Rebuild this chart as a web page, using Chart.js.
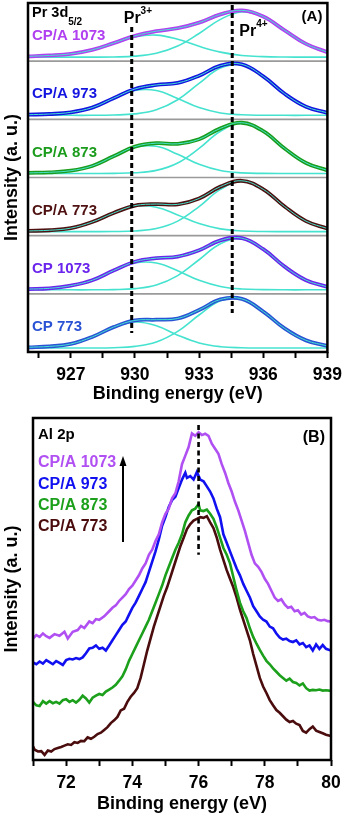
<!DOCTYPE html>
<html>
<head>
<meta charset="utf-8">
<script src="https://cdn.jsdelivr.net/npm/chart.js@4.4.1/dist/chart.umd.min.js"></script>
<style>
  html, body { margin: 0; padding: 0; background: #fff; }
  body { width: 349px; height: 817px; position: relative; overflow: hidden; }
  canvas { position: absolute; left: 0; }
  #chartA { top: 0; }
  #chartB { top: 405px; }
</style>
</head>
<body>
<canvas id="chartA" width="349" height="405"></canvas>
<canvas id="chartB" width="349" height="412"></canvas>
<script>
// ---- panel A : Pr 3d5/2 ----
const energyA = [925, 926, 927, 928, 929, 930, 931, 932, 933, 934, 935, 936, 937, 938, 939];
const ticksA = [925.5, 927, 928.5, 930, 931.5, 933, 934.5, 936, 937.5, 939];
const samplesA = ["CP/A 1073", "CP/A 973", "CP/A 873", "CP/A 773", "CP 1073", "CP 773"];
const pr3Energy = 929.85;
const pr4Energy = 934.55;

// intensity in each strip (a. u.), envelope + the two fitted components
const env_cpa1073 = [4.8, 5.7, 7.3, 11.2, 18, 25.2, 29.9, 32.9, 38.4, 46.7, 50.7, 44.5, 30.7, 17.2, 8.9];
const pr3_cpa1073 = [4.8, 5.7, 7.3, 11.2, 17.8, 24.2, 26, 21.8, 14.8, 9, 5.7, 4.5, 4.1, 4, 4];
const pr4_cpa1073 = [4, 4, 4, 4, 4.2, 5, 7.9, 15.1, 27.6, 41.7, 49, 44, 30.6, 17.2, 8.9];

const env_cpa973 = [4.6, 5.3, 7, 11.7, 21.1, 30.2, 34.3, 36.3, 43.5, 53.5, 54.8, 42.8, 25.5, 12.6, 6.5];
const pr3_cpa973 = [4.6, 5.3, 7, 11.7, 20.8, 28.8, 28.8, 20.8, 11.7, 6.4, 4.5, 4.1, 4, 4, 4];
const pr4_cpa973 = [4, 4, 4, 4, 4.3, 5.4, 9.5, 19.5, 35.8, 51.1, 54.3, 42.7, 25.5, 12.6, 6.5];

const env_cpa873 = [4.6, 5.2, 6.8, 11.5, 21.1, 30.8, 34.2, 33.6, 38.1, 49, 54.6, 46.2, 29, 14.5, 7.1];
const pr3_cpa873 = [4.6, 5.2, 6.8, 11.5, 21, 30.1, 31.1, 23.1, 13.1, 6.9, 4.6, 4.1, 4, 4, 4];
const pr4_cpa873 = [4, 4, 4, 4, 4.1, 4.7, 7.1, 14.5, 29, 46.1, 54, 46.1, 29, 14.5, 7.1];

const env_cpa773 = [4.7, 5.4, 7.5, 13.6, 22.6, 30, 31.5, 31.2, 37.1, 48.9, 54.7, 46.2, 29, 14.5, 7.1];
const pr3_cpa773 = [4.7, 5.4, 7.5, 13.6, 22.5, 29.3, 28.4, 20.7, 12.1, 6.8, 4.7, 4.1, 4, 4, 4];
const pr4_cpa773 = [4, 4, 4, 4, 4.1, 4.7, 7.1, 14.5, 29, 46.1, 54, 46.1, 29, 14.5, 7.1];

const env_cp1073 = [4.7, 5.5, 8.2, 13.5, 23.2, 32, 35.6, 37.2, 43.5, 53.3, 55.5, 44.5, 27.1, 13.6, 6.9];
const pr3_cp1073 = [4.7, 5.5, 8.2, 13.5, 23, 30.8, 30.8, 23, 13.5, 7.4, 4.8, 4.2, 4, 4, 4];
const pr4_cp1073 = [4, 4, 4, 4, 4.2, 5.2, 8.8, 18.2, 34, 49.9, 54.7, 44.3, 27.1, 13.6, 6.9];

const env_cp773 = [4.7, 5.6, 8, 15, 24.8, 31.5, 32.2, 33.4, 41.9, 52.4, 52.9, 40.3, 23.5, 11.6, 6.1];
const pr3_cp773 = [4.7, 5.6, 8, 15, 24.5, 29.9, 26.2, 16.8, 9, 5.3, 4.2, 4, 4, 4, 4];
const pr4_cp773 = [4, 4, 4, 4, 4.3, 5.6, 10, 20.6, 36.9, 51.1, 52.7, 40.3, 23.5, 11.6, 6.1];

// ---- panel B : Al 2p ----
const samplesB = ["CP/A 1073", "CP/A 973", "CP/A 873", "CP/A 773"];
const alPeak = 76.0;
const be_cpa1073 = [71.0, 71.1, 71.2, 71.3, 71.4, 71.5, 71.65, 71.8, 71.95, 72.05, 72.2, 72.35, 72.45, 72.55, 72.7, 72.8, 72.9, 73.0, 73.15, 73.3, 73.4, 73.5, 73.6, 73.7, 73.8, 73.9, 74.0, 74.1, 74.2, 74.3, 74.4, 74.5, 74.6, 74.7, 74.8, 74.9, 75.0, 75.1, 75.2, 75.3, 75.4, 75.5, 75.6, 75.7, 75.8, 75.9, 76.0, 76.1, 76.2, 76.3, 76.4, 76.5, 76.6, 76.7, 76.8, 76.9, 77.0, 77.1, 77.2, 77.3, 77.4, 77.5, 77.6, 77.7, 77.8, 77.9, 78.0, 78.1, 78.2, 78.3, 78.4, 78.5, 78.6, 78.7, 78.8, 78.9, 79.0, 79.1, 79.2, 79.3, 79.4, 79.5, 79.6, 79.7, 79.8, 79.9, 80.0];
const int_cpa1073 = [35.5, 36.5, 36.0, 37.0, 36.2, 35.7, 36.8, 36.3, 37.5, 35.5, 37.5, 38.0, 39.2, 38.6, 40.5, 40.0, 41.2, 41.0, 42.0, 43.5, 44.5, 45.2, 46.5, 47.5, 48.5, 50.0, 51.0, 52.5, 54.0, 56.0, 57.5, 60.0, 61.5, 64.0, 66.0, 69.5, 72.0, 73.5, 76.5, 78.0, 81.5, 86.5, 89.0, 91.5, 95.5, 94.8, 95.8, 95.0, 95.4, 94.8, 92.5, 91.0, 89.5, 86.5, 84.0, 81.0, 78.5, 75.5, 73.0, 70.0, 67.0, 63.5, 60.0, 57.5, 56.5, 55.0, 53.0, 51.5, 49.5, 47.5, 46.5, 47.0, 45.5, 44.5, 44.8, 43.5, 43.8, 42.5, 43.0, 42.0, 41.6, 41.8, 41.0, 40.8, 41.0, 40.6, 40.5];

const be_cpa973 = [71.0, 71.1, 71.2, 71.3, 71.4, 71.5, 71.6, 71.7, 71.8, 71.9, 72.0, 72.1, 72.2, 72.3, 72.4, 72.5, 72.6, 72.7, 72.8, 72.9, 73.0, 73.1, 73.2, 73.3, 73.4, 73.5, 73.6, 73.7, 73.8, 73.9, 74.0, 74.1, 74.2, 74.3, 74.4, 74.5, 74.6, 74.7, 74.8, 74.9, 75.0, 75.1, 75.2, 75.3, 75.4, 75.5, 75.6, 75.65, 75.75, 75.85, 75.95, 76.05, 76.15, 76.25, 76.35, 76.45, 76.55, 76.65, 76.75, 76.85, 76.95, 77.05, 77.15, 77.25, 77.35, 77.45, 77.55, 77.65, 77.75, 77.85, 77.95, 78.05, 78.15, 78.25, 78.35, 78.45, 78.55, 78.65, 78.75, 78.85, 78.95, 79.05, 79.15, 79.25, 79.35, 79.45, 79.55, 79.65, 79.75, 79.85, 80.0];
const int_cpa973 = [28.5, 28.0, 28.8, 28.2, 29.2, 28.6, 28.0, 28.9, 28.4, 27.8, 29.2, 29.6, 29.4, 29.8, 29.5, 30.0, 31.2, 32.6, 32.8, 33.5, 32.5, 32.8, 32.0, 33.5, 35.0, 36.5, 38.0, 39.5, 40.5, 42.5, 44.5, 46.0, 48.0, 50.0, 52.0, 55.0, 58.0, 61.0, 64.5, 68.5, 71.0, 74.0, 76.0, 77.0, 79.5, 82.0, 84.0, 82.5, 83.0, 82.0, 84.2, 82.0, 81.5, 80.0, 78.5, 76.5, 73.5, 71.0, 66.0, 63.5, 61.0, 58.5, 56.0, 54.0, 51.5, 49.5, 47.5, 45.0, 43.5, 42.0, 41.0, 40.5, 39.0, 38.5, 37.0, 35.8, 35.2, 35.5, 34.8, 34.5, 35.0, 33.8, 34.2, 33.0, 33.5, 32.0, 33.8, 32.5, 33.6, 32.5, 32.0];

const be_cpa873 = [71.0, 71.1, 71.2, 71.3, 71.4, 71.5, 71.6, 71.7, 71.8, 71.9, 72.0, 72.1, 72.2, 72.3, 72.4, 72.5, 72.6, 72.7, 72.8, 72.9, 73.0, 73.1, 73.2, 73.3, 73.4, 73.5, 73.6, 73.7, 73.8, 73.9, 74.0, 74.1, 74.2, 74.3, 74.4, 74.5, 74.6, 74.7, 74.8, 74.9, 75.0, 75.1, 75.2, 75.3, 75.4, 75.5, 75.6, 75.7, 75.8, 75.9, 76.0, 76.05, 76.15, 76.25, 76.35, 76.45, 76.55, 76.65, 76.75, 76.85, 76.95, 77.05, 77.15, 77.25, 77.35, 77.45, 77.55, 77.65, 77.75, 77.85, 77.95, 78.05, 78.15, 78.25, 78.35, 78.45, 78.55, 78.65, 78.75, 78.85, 78.95, 79.05, 79.15, 79.25, 79.35, 79.45, 79.55, 79.65, 79.75, 79.85, 80.0];
const int_cpa873 = [17.0, 16.0, 15.8, 17.2, 16.5, 17.2, 16.6, 17.0, 16.5, 17.5, 17.8, 17.0, 17.5, 16.8, 17.6, 18.8, 18.0, 16.8, 18.2, 18.8, 19.3, 19.0, 20.0, 20.6, 21.2, 22.0, 23.2, 24.5, 26.5, 29.0, 31.0, 33.0, 35.0, 37.0, 39.0, 41.0, 43.5, 46.0, 48.5, 51.0, 54.0, 56.5, 59.0, 61.5, 63.5, 66.0, 69.5, 71.5, 73.0, 73.5, 74.8, 73.0, 72.8, 73.2, 72.0, 70.5, 68.0, 65.0, 62.0, 60.0, 57.5, 53.5, 49.5, 46.0, 43.5, 41.5, 38.5, 36.0, 34.0, 32.2, 30.5, 29.0, 28.0, 26.8, 25.8, 24.8, 24.0, 23.2, 23.8, 22.8, 22.5, 21.8, 22.4, 21.0, 20.3, 20.5, 20.4, 20.6, 20.3, 20.4, 20.2];

const be_cpa773 = [71.0, 71.05, 71.15, 71.25, 71.35, 71.45, 71.55, 71.65, 71.75, 71.85, 71.95, 72.05, 72.15, 72.25, 72.35, 72.45, 72.55, 72.65, 72.75, 72.85, 72.95, 73.05, 73.15, 73.25, 73.35, 73.45, 73.55, 73.65, 73.75, 73.85, 73.95, 74.05, 74.15, 74.25, 74.35, 74.45, 74.55, 74.65, 74.75, 74.85, 74.95, 75.05, 75.15, 75.25, 75.35, 75.45, 75.55, 75.65, 75.75, 75.85, 75.95, 76.05, 76.15, 76.25, 76.35, 76.45, 76.55, 76.65, 76.75, 76.85, 76.95, 77.05, 77.15, 77.25, 77.35, 77.45, 77.55, 77.65, 77.75, 77.85, 77.95, 78.05, 78.15, 78.25, 78.35, 78.45, 78.55, 78.65, 78.75, 78.85, 78.95, 79.05, 79.15, 79.25, 79.35, 79.45, 79.55, 79.65, 79.75, 79.85, 80.0];
const int_cpa773 = [4.0, 3.0, 2.5, 2.6, 1.5, 2.8, 2.5, 3.2, 3.5, 3.8, 4.2, 4.6, 4.4, 5.2, 5.0, 5.6, 5.5, 6.6, 6.2, 6.8, 7.6, 8.0, 8.8, 9.6, 10.8, 11.6, 12.6, 14.5, 15.0, 17.0, 18.5, 19.6, 21.0, 24.0, 28.0, 32.0, 35.5, 39.0, 42.0, 45.0, 48.0, 50.5, 53.5, 56.5, 59.5, 62.5, 65.0, 67.5, 69.0, 70.0, 70.5, 71.0, 70.8, 71.3, 69.5, 67.8, 65.0, 61.5, 58.5, 55.5, 53.0, 50.5, 47.5, 44.0, 41.0, 38.0, 35.0, 31.0, 27.5, 24.0, 21.5, 19.6, 17.5, 16.0, 14.6, 13.8, 12.8, 11.8, 11.1, 11.4, 10.6, 10.2, 8.5, 8.0, 9.0, 9.8, 8.6, 8.2, 7.8, 7.4, 7.0];

// ---- styles ----
const FONT = '"Liberation Sans", Arial, sans-serif';
const CYAN = "#45e3cf";
const colorsA = ["#b040f0", "#1414e0", "#1c9c1c", "#4e1010", "#6a24ec", "#2a52d4"];
const colorsB = ["#b050f2", "#1010f0", "#1ca01c", "#4a0c0c"];
const STRIP = 58;

const envA = [env_cpa1073, env_cpa973, env_cpa873, env_cpa773, env_cp1073, env_cp773];
const pr3A = [pr3_cpa1073, pr3_cpa973, pr3_cpa873, pr3_cpa773, pr3_cp1073, pr3_cp773];
const pr4A = [pr4_cpa1073, pr4_cpa973, pr4_cpa873, pr4_cpa773, pr4_cp1073, pr4_cp773];

const shifted = (arr, off) => energyA.map((e, j) => ({ x: e, y: arr[j] + off }));
const stripOffset = (i) => (samplesA.length - 1 - i) * STRIP;

const datasetsA = [];
samplesA.forEach((name, i) => {
    const off = stripOffset(i);
    const base = { pointRadius: 0, fill: false, tension: 0.4 };
    datasetsA.push({ ...base, label: name + " Pr3+", data: shifted(pr3A[i], off), borderColor: CYAN, borderWidth: 1.6, order: 3 });
    datasetsA.push({ ...base, label: name + " Pr4+", data: shifted(pr4A[i], off), borderColor: CYAN, borderWidth: 1.6, order: 3 });
    datasetsA.push({ ...base, label: name, data: shifted(envA[i], off), borderColor: colorsA[i], borderWidth: 3.8, order: 2 });
    datasetsA.push({ ...base, label: name + " fit", data: shifted(envA[i], off), borderColor: CYAN, borderWidth: 1, order: 1 });
});

const text = (ctx, s, x, y, size, color, align) => {
    ctx.font = `bold ${size}px ${FONT}`;
    ctx.fillStyle = color;
    ctx.textAlign = align || "left";
    ctx.textBaseline = "middle";
    ctx.fillText(s, x, y);
    return ctx.measureText(s).width;
};

const dashed = (ctx, x, y0, y1, w, dash) => {
    ctx.save();
    ctx.strokeStyle = "#000";
    ctx.lineWidth = w;
    ctx.setLineDash(dash);
    ctx.beginPath();
    ctx.moveTo(x, y0);
    ctx.lineTo(x, y1);
    ctx.stroke();
    ctx.restore();
};

const frame = {
    id: "frame",
    afterDraw(chart) {
        const { ctx, chartArea: a } = chart;
        ctx.save();
        ctx.strokeStyle = "#000";
        ctx.lineWidth = 2.5;
        ctx.strokeRect(a.left, a.top, a.right - a.left, a.bottom - a.top);
        ctx.restore();
    },
};

const decorA = {
    id: "decorA",
    beforeDatasetsDraw(chart) {
        const { ctx, chartArea: a, scales } = chart;
        ctx.save();
        ctx.strokeStyle = "#9a9a9a";
        ctx.lineWidth = 1.6;
        for (let k = 1; k < samplesA.length; k++) {
            const y = scales.y.getPixelForValue(k * STRIP);
            ctx.beginPath();
            ctx.moveTo(a.left, y);
            ctx.lineTo(a.right, y);
            ctx.stroke();
        }
        ctx.restore();
    },
    afterDatasetsDraw(chart) {
        const { ctx, chartArea: a, scales } = chart;
        const x3 = scales.x.getPixelForValue(pr3Energy);
        const x4 = scales.x.getPixelForValue(pr4Energy);
        dashed(ctx, x3, a.top + 24, scales.y.getPixelForValue(19), 3, [5, 3]);
        dashed(ctx, x4, a.top + 2, scales.y.getPixelForValue(39), 3, [5, 3]);

        ctx.save();
        let w = text(ctx, "Pr 3d", a.left + 4, a.top + 10, 14.5, "#000");
        text(ctx, "5/2", a.left + 4 + w, a.top + 19, 10, "#000");
        text(ctx, "(A)", a.right - 5, a.top + 14, 15, "#000", "right");
        w = text(ctx, "Pr", x3 - 8, a.top + 16, 16, "#000");
        text(ctx, "3+", x3 - 8 + w, a.top + 8, 10, "#000");
        w = text(ctx, "Pr", x4 + 7, a.top + 29, 16, "#000");
        text(ctx, "4+", x4 + 7 + w, a.top + 21, 10, "#000");
        samplesA.forEach((name, i) => {
            const y = scales.y.getPixelForValue(stripOffset(i) + 25);
            text(ctx, name, a.left + 4, y, 15, colorsA[i]);
        });
        ctx.restore();
    },
};

new Chart(document.getElementById("chartA"), {
    type: "line",
    data: { datasets: datasetsA },
    plugins: [decorA, frame],
    options: {
        responsive: false,
        animation: false,
        layout: { padding: { top: 3, right: 16, left: 0, bottom: 0 } },
        plugins: { legend: { display: false }, tooltip: { enabled: false } },
        scales: {
            x: {
                type: "linear",
                min: 925,
                max: 939,
                afterBuildTicks: (scale) => { scale.ticks = ticksA.map((v) => ({ value: v })); },
                afterFit: (scale) => { scale.height = 53; },
                ticks: {
                    autoSkip: false,
                    maxRotation: 0,
                    padding: 7,
                    color: "#000",
                    font: { family: FONT, size: 17.5, weight: "bold" },
                    callback: (v) => (v % 3 === 0 ? String(v) : ""),
                },
                grid: { drawOnChartArea: false, tickLength: 6, tickWidth: 2, tickColor: "#000" },
                border: { display: false },
                title: {
                    display: true,
                    text: "Binding energy (eV)",
                    color: "#000",
                    font: { family: FONT, size: 18, weight: "bold" },
                    padding: { top: 0, bottom: 0 },
                },
            },
            y: {
                min: 0,
                max: STRIP * samplesA.length,
                afterFit: (scale) => { scale.width = 28; },
                ticks: { display: false },
                grid: { display: false },
                border: { display: false },
                title: {
                    display: true,
                    text: "Intensity (a. u.)",
                    color: "#000",
                    font: { family: FONT, size: 18, weight: "bold" },
                    padding: { top: 1, bottom: 0 },
                },
            },
        },
    },
});

// ---- panel B chart ----
const beB = [be_cpa1073, be_cpa973, be_cpa873, be_cpa773];
const intB = [int_cpa1073, int_cpa973, int_cpa873, int_cpa773];
const datasetsB = samplesB.map((name, i) => ({
    label: name,
    data: beB[i].map((e, j) => ({ x: e, y: intB[i][j] })),
    borderColor: colorsB[i],
    borderWidth: 2.6,
    pointRadius: 0,
    fill: false,
    tension: 0,
    order: i,
}));

const decorB = {
    id: "decorB",
    afterDatasetsDraw(chart) {
        const { ctx, chartArea: a, scales } = chart;
        dashed(ctx, scales.x.getPixelForValue(alPeak), a.top + 7, scales.y.getPixelForValue(60), 2.6, [5, 3.5]);
        ctx.save();
        text(ctx, "Al 2p", a.left + 5, a.top + 17, 15, "#000");
        text(ctx, "(B)", a.right - 6, a.top + 20, 16, "#000", "right");
        samplesB.forEach((name, i) => {
            text(ctx, name, a.left + 5, a.top + 45 + i * 21.3, 16, colorsB[i]);
        });
        // arrow
        const ax = a.left + 90;
        ctx.strokeStyle = "#000";
        ctx.fillStyle = "#000";
        ctx.lineWidth = 2;
        ctx.beginPath();
        ctx.moveTo(ax, a.top + 124);
        ctx.lineTo(ax, a.top + 46);
        ctx.stroke();
        ctx.beginPath();
        ctx.moveTo(ax, a.top + 38);
        ctx.lineTo(ax - 3.5, a.top + 48);
        ctx.lineTo(ax + 3.5, a.top + 48);
        ctx.closePath();
        ctx.fill();
        ctx.restore();
    },
};

new Chart(document.getElementById("chartB"), {
    type: "line",
    data: { datasets: datasetsB },
    plugins: [decorB, frame],
    options: {
        responsive: false,
        animation: false,
        layout: { padding: { top: 13, right: 18, left: 0, bottom: 0 } },
        plugins: { legend: { display: false }, tooltip: { enabled: false } },
        scales: {
            x: {
                type: "linear",
                min: 71,
                max: 80,
                afterFit: (scale) => { scale.height = 57; },
                ticks: {
                    stepSize: 1,
                    autoSkip: false,
                    maxRotation: 0,
                    padding: 7,
                    color: "#000",
                    font: { family: FONT, size: 17.5, weight: "bold" },
                    callback: (v) => (v % 2 === 0 ? String(v) : ""),
                },
                grid: { drawOnChartArea: false, tickLength: 6, tickWidth: 2, tickColor: "#000" },
                border: { display: false },
                title: {
                    display: true,
                    text: "Binding energy (eV)",
                    color: "#000",
                    font: { family: FONT, size: 18, weight: "bold" },
                    padding: { top: 0, bottom: 2 },
                },
            },
            y: {
                min: 0,
                max: 100,
                afterFit: (scale) => { scale.width = 33; },
                ticks: { display: false },
                grid: { display: false },
                border: { display: false },
                title: {
                    display: true,
                    text: "Intensity (a. u.)",
                    color: "#000",
                    font: { family: FONT, size: 18, weight: "bold" },
                    padding: { top: 1, bottom: 0 },
                },
            },
        },
    },
});
</script>
</body>
</html>
